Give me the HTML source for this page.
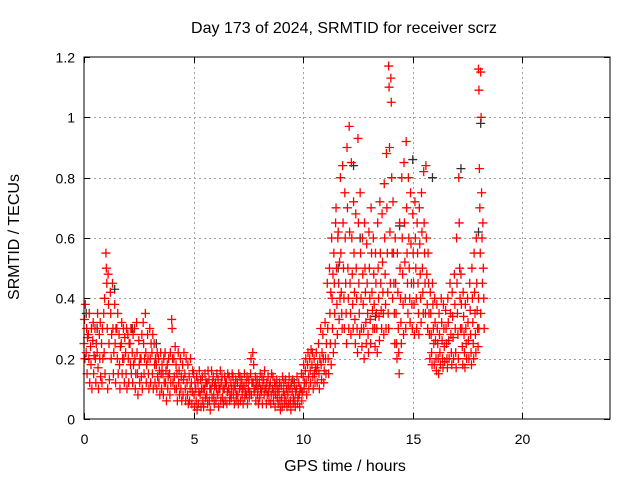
<!DOCTYPE html>
<html><head><meta charset="utf-8"><style>
body{margin:0;background:#fff;}
svg{display:block;font-family:"Liberation Sans",sans-serif;}
</style></head><body>
<svg id="chart" width="640" height="480">
<rect width="640" height="480" fill="#fff"/>
<text x="344" y="33" text-anchor="middle" font-size="16">Day 173 of 2024, SRMTID for receiver scrz</text>
<text x="19" y="237" text-anchor="middle" font-size="16" transform="rotate(-90 19 237)">SRMTID / TECUs</text>
<text x="345" y="471" text-anchor="middle" font-size="16">GPS time / hours</text>
<g id="grid"></g>
<g id="ticks"></g>
<g id="blackpts"></g>
<g id="redpts"></g>
<rect x="84" y="57" width="526" height="362" fill="none" stroke="#000" stroke-width="1"/>
</svg>
<script>
const xTicks=[0,5,10,15,20];
const yTicks=[0,0.2,0.4,0.6,0.8,1,1.2];
const yTickLabels=["0","0.2","0.4","0.6","0.8","1","1.2"];
const redStart=0, redStep=0.1;
const redVals=[
[.25,.33,.2,.38],[.22,.3,.15,.27],[.28,.2,.35,.12],[.24,.18,.3,.1],[.26,.32,.15,.21],[.3,.2,.12,.25],[.22,.35,.17,.1],[.28,.2,.32,.14],[.25,.12,.3,.2],[.35,.22,.4,.15],
[.55,.5,.45,.3,.1],[.48,.38,.25,.13],[.42,.35,.2,.28],[.45,.3,.15,.22],[.38,.25,.12,.3],[.3,.2,.35,.15],[.28,.18,.1,.24],[.25,.32,.15,.2],[.3,.2,.12,.27],[.22,.15,.3,.1],
[.28,.2,.12,.25],[.25,.18,.3,.15],[.22,.12,.28,.18],[.3,.2,.1,.15],[.32,.22,.15,.08],[.26,.18,.12,.2],[.2,.14,.28,.1],[.32,.25,.15,.2],[.35,.22,.12,.18],[.28,.2,.15,.1],
[.3,.2,.12,.25],[.22,.15,.28,.1],[.25,.18,.12,.2],[.18,.1,.22,.14],[.2,.12,.16,.08],[.22,.15,.1,.18],[.15,.08,.2,.12],[.22,.12,.16,.06],[.18,.1,.14,.2],[.15,.08,.22,.12],
[.33,.3,.2,.12],[.2,.14,.1,.24],[.18,.1,.15,.06],[.22,.12,.16,.08],[.2,.1,.14,.06],[.18,.08,.13,.22],[.15,.1,.06,.2],[.12,.08,.18,.05],[.14,.06,.1,.2],[.12,.05,.09,.16],
[.15,.08,.04,.12],[.1,.06,.14,.03],[.12,.05,.09,.16],[.08,.13,.04,.1],[.14,.06,.1,.04],[.1,.15,.07,.12],[.08,.12,.05,.16],[.13,.06,.1,.03],[.1,.16,.07,.12],[.14,.08,.05,.11],
[.12,.06,.1,.15],[.08,.13,.04,.1],[.1,.16,.06,.12],[.14,.07,.1,.05],[.1,.14,.06,.12],[.12,.05,.09,.15],[.1,.14,.06,.08],[.12,.07,.1,.15],[.14,.08,.11,.05],[.1,.13,.06,.08],
[.12,.08,.05,.15],[.1,.14,.06,.11],[.13,.08,.1,.05],[.11,.15,.07,.09],[.12,.08,.14,.05],[.1,.13,.07,.09],[.15,.2,.08,.12],[.22,.12,.18,.09],[.1,.14,.06,.11],[.13,.08,.1,.05],
[.12,.07,.15,.1],[.09,.14,.05,.11],[.13,.08,.16,.1],[.1,.05,.12,.08],[.14,.09,.06,.11],[.12,.05,.08,.15],[.1,.14,.06,.09],[.12,.04,.08,.11],[.13,.07,.1,.05],[.09,.12,.06,.03],
[.11,.07,.04,.14],[.09,.12,.05,.08],[.13,.06,.1,.04],[.08,.11,.05,.14],[.1,.06,.03,.12],[.09,.13,.05,.07],[.11,.06,.04,.09],[.1,.14,.05,.07],[.12,.08,.04,.1],[.1,.15,.06,.09],
[.14,.18,.1,.12],[.16,.2,.12,.08],[.18,.22,.14,.1],[.2,.16,.12,.23],[.18,.22,.14,.1],[.2,.15,.12,.17],[.22,.16,.12,.18],[.25,.15,.1,.2],[.3,.18,.13,.22],[.28,.2,.12,.16],
[.32,.2,.15,.25],[.45,.3,.2,.15],[.5,.35,.25,.42,.18],[.6,.4,.3,.48,.22],[.55,.45,.35,.25,.65],[.7,.5,.38,.28,.6],[.62,.45,.33,.52,.4],[.8,.55,.42,.35,.3],[.84,.65,.5,.4,.3],[.75,.6,.45,.35,.25],
[.9,.7,.5,.4,.3],[.97,.62,.45,.35,.28],[.85,.6,.48,.38,.3],[.72,.55,.42,.33,.25],[.68,.5,.4,.3,.22],[.93,.65,.45,.35,.28],[.75,.55,.4,.3,.24],[.6,.48,.38,.3,.2],[.65,.5,.42,.32,.25],[.58,.45,.35,.28,.22],
[.62,.5,.4,.33,.25],[.7,.55,.42,.36,.3],[.6,.48,.38,.3,.24],[.55,.45,.35,.3,.22],[.65,.5,.4,.34,.26],[.72,.55,.45,.36,.3],[.68,.52,.42,.35,.28],[.78,.6,.48,.38,.3],[.88,.7,.55,.42,.35],[1.17,1.1,.9,.62,.45,.3],
[1.13,1.05,.8,.55,.4],[.72,.55,.45,.35,.25],[.6,.45,.35,.25,.2],[.55,.42,.3,.22,.15],[.65,.5,.4,.32,.25],[.8,.6,.48,.38,.28],[.85,.65,.52,.4,.3],[.92,.7,.55,.45,.35],[.8,.6,.5,.4,.32],[.75,.58,.45,.38,.3],
[.68,.55,.45,.38,.28],[.72,.6,.5,.4,.3],[.65,.55,.45,.35,.28],[.7,.58,.48,.4,.32],[.75,.62,.5,.42,.35],[.82,.65,.55,.45,.35],[.84,.6,.48,.38,.3],[.55,.45,.35,.28,.2],[.42,.35,.28,.22,.18],[.45,.38,.3,.25,.18],
[.4,.32,.26,.2,.16],[.38,.3,.25,.2,.15],[.35,.28,.22,.18],[.4,.32,.26,.2,.17],[.38,.3,.24,.19],[.36,.3,.25,.2,.17],[.4,.32,.26,.2],[.45,.35,.28,.22,.18],[.42,.34,.27,.2],[.48,.38,.3,.22,.17],
[.6,.45,.35,.28,.2],[.8,.65,.5,.4,.3],[.48,.38,.3,.24,.18],[.42,.34,.28,.22,.17],[.38,.3,.25,.2],[.4,.32,.26,.2],[.45,.36,.28,.22,.18],[.5,.4,.32,.25,.2],[.55,.42,.35,.28,.22],[.6,.45,.36,.3,.24],
[1.16,1.09,.83,.7,.55,.4,.3],[1.15,1.0,.75,.6,.45,.35],[.65,.5,.4,.3]
];
const blackT=[0.1,0.6,1.4,2.2,3.3,6.2,9.6,11.6,12.3,12.6,13.3,14.4,15.0,15.9,17.2,18.1,18.0];
const blackV=[0.35,0.3,0.43,0.3,0.25,0.1,0.12,0.5,0.84,0.6,0.34,0.64,0.86,0.8,0.83,0.98,0.62];

const NS="http://www.w3.org/2000/svg";
const X0=84,X1=610,Y0=419,Y1=57;
function sx(t){return X0+(t-0)/(24-0)*(X1-X0);}
function sy(v){return Y0-(v-0)/(1.2-0)*(Y0-Y1);}
const grid=document.getElementById('grid'),ticks=document.getElementById('ticks');
function line(p,x1,y1,x2,y2,st,dash){const l=document.createElementNS(NS,'line');l.setAttribute('x1',x1);l.setAttribute('y1',y1);l.setAttribute('x2',x2);l.setAttribute('y2',y2);l.setAttribute('stroke',st);if(dash)l.setAttribute('stroke-dasharray',dash);p.appendChild(l);return l;}
function txt(p,x,y,s,anchor){const t=document.createElementNS(NS,'text');t.setAttribute('x',x);t.setAttribute('y',y);t.setAttribute('font-size','14');t.setAttribute('text-anchor',anchor);t.textContent=s;p.appendChild(t);return t;}
xTicks.forEach(function(v){const x=Math.round(sx(v))+0.5;
 if(v>0){const g=line(grid,x,Y1,x,Y0,'#a0a0a0','2,3');
 
 }
 line(ticks,x,Y0,x,Y0-6,'#000');line(ticks,x,Y1,x,Y1+6,'#000');
 const t=txt(ticks,x,444,String(v),'middle');
 
 });
yTicks.forEach(function(v,i){const y=Math.round(sy(v))+0.5;
 if(v>0&&v<1.2){const g=line(grid,X0,y,X1,y,'#a0a0a0','2,3');
 
 }
 line(ticks,X0,y,X0+6,y,'#000');line(ticks,X1,y,X1-6,y,'#000');
 const t=txt(ticks,75,y+5,yTickLabels[i],'end');
 
 });
function plus(p,t,v,col,name){const x=sx(t),y=sy(v);const pa=document.createElementNS(NS,'path');
 pa.setAttribute('d','M'+(x-4.5)+' '+y+'H'+(x+4.5)+'M'+x+' '+(y-4.5)+'V'+(y+4.5));
 pa.setAttribute('stroke',col);pa.setAttribute('stroke-width','1.3');pa.setAttribute('fill','none');
 
 
 p.appendChild(pa);}
const bp=document.getElementById('blackpts');
blackT.forEach(function(t,i){plus(bp,t,blackV[i],'#303030','black-point');});
const rp=document.getElementById('redpts');
redVals.forEach(function(arr,i){const t0=redStart+i*redStep;
 arr.forEach(function(v,j){plus(rp,t0+(j%5)*0.02,v,'#ff0000','red-point');});});
</script>
</body></html>
